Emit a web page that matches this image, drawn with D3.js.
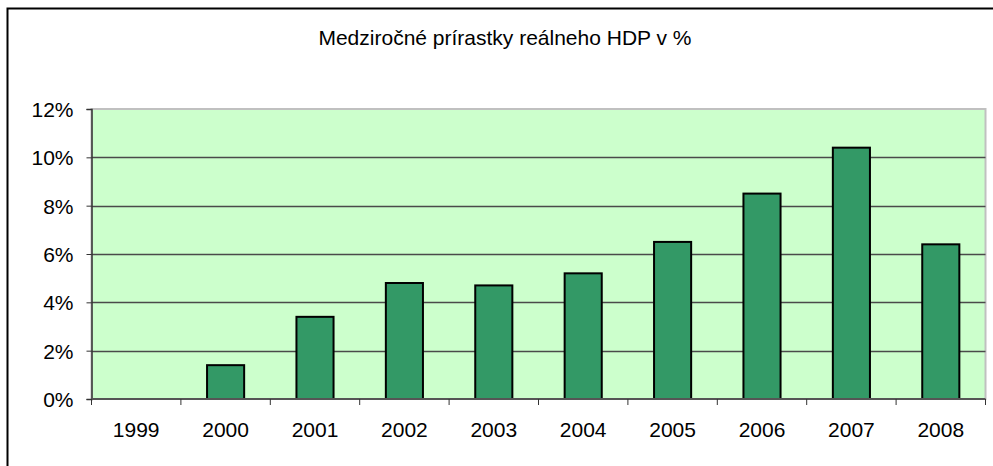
<!DOCTYPE html>
<meta charset="utf-8">
<style>
body { margin: 0; background: #fff; }
svg text { font-family: "Liberation Sans", Arial, sans-serif; fill: #000; }
</style>
<body>
<div id="chart"></div>
<script src="https://cdn.jsdelivr.net/npm/d3@7"></script>
<script>

// Data for chart
var years = ["1999", "2000", "2001", "2002", "2003", "2004", "2005", "2006", "2007", "2008"];
var growth = [0, 1.4, 3.4, 4.8, 4.7, 5.2, 6.5, 8.5, 10.4, 6.4];
var yTicks = [0, 2, 4, 6, 8, 10, 12];
var title = "Medziročné prírastky reálneho HDP v %";

var width = 993;
var height = 466;
var fontSize = 21;

var svg = d3.select("#chart")
            .append("svg")
            .attr("width", width)
            .attr("height", height);

// outer chart frame (cut off at right and bottom)
svg.append("path")
   .attr("d", "M7.5," + (height + 5) + "V8.5H" + (width + 5))
   .attr("fill", "none")
   .attr("stroke", "#000")
   .attr("stroke-width", 2);

var plotL = 91.5, plotR = 985.5, plotT = 109, plotB = 399;

var x = d3.scaleBand()
          .domain(years)
          .range([plotL, plotR])
          .paddingInner(0.585)
          .paddingOuter(0.2925);

var xOuter = d3.scaleBand()
               .domain(years)
               .range([plotL, plotR]);

var y = d3.scaleLinear()
          .domain([0, 12])
          .range([plotB, plotT]);

// plot background
svg.append("rect")
   .attr("x", plotL).attr("y", plotT)
   .attr("width", plotR - plotL).attr("height", plotB - plotT)
   .attr("fill", "#ccffcc")
   .attr("stroke", "#c0c0c0")
   .attr("stroke-width", 2);

// gridlines
svg.append("g")
   .selectAll("line")
   .data(yTicks.filter(function(d) { return d > 0 && d < 12; }))
   .enter()
   .append("line")
   .attr("x1", plotL).attr("x2", plotR)
   .attr("y1", function(d) { return Math.round(y(d)) + 0.5; })
   .attr("y2", function(d) { return Math.round(y(d)) + 0.5; })
   .attr("stroke", "#4a4a4a")
   .attr("stroke-width", 1.3);

// bars
svg.append("g")
   .selectAll("rect")
   .data(years.map(function(d, i) { return {year: d, v: growth[i]}; })
              .filter(function(d) { return d.v > 0; }))
   .enter()
   .append("rect")
   .attr("x", function(d) { return x(d.year); })
   .attr("y", function(d) { return y(d.v); })
   .attr("width", x.bandwidth())
   .attr("height", function(d) { return y(0) - y(d.v); })
   .attr("fill", "#339966")
   .attr("stroke", "#000")
   .attr("stroke-width", 2);

// y axis
var yAxis = d3.axisLeft(y)
              .tickValues(yTicks)
              .tickFormat(function(d) { return d + "%"; })
              .tickSize(5)
              .tickPadding(13);

var yG = svg.append("g")
            .attr("transform", "translate(" + plotL + ",0)")
            .call(yAxis);
yG.select(".domain").attr("stroke", "#333").attr("stroke-width", 1.5);
yG.selectAll(".tick line").attr("stroke", "#333");
yG.selectAll("text").attr("font-size", fontSize).attr("dy", "0.35em");

// x axis
var xG = svg.append("g")
            .attr("transform", "translate(0," + plotB + ")");
xG.append("line")
  .attr("x1", plotL).attr("x2", plotR)
  .attr("y1", 0).attr("y2", 0)
  .attr("stroke", "#555")
  .attr("stroke-width", 2);
xG.selectAll(".tk")
  .data(years.concat(["end"]))
  .enter()
  .append("line")
  .attr("class", "tk")
  .attr("x1", function(d) { return d == "end" ? plotR : xOuter(d); })
  .attr("x2", function(d) { return d == "end" ? plotR : xOuter(d); })
  .attr("y1", 0).attr("y2", 6)
  .attr("stroke", "#333");
xG.selectAll("text")
  .data(years)
  .enter()
  .append("text")
  .attr("x", function(d) { return xOuter(d) + xOuter.bandwidth() / 2; })
  .attr("y", 38)
  .attr("text-anchor", "middle")
  .attr("font-size", fontSize)
  .text(function(d) { return d; });

// title
svg.append("text")
   .attr("x", 505)
   .attr("y", 45)
   .attr("text-anchor", "middle")
   .attr("font-size", fontSize)
   .text(title);

</script>
</body>
